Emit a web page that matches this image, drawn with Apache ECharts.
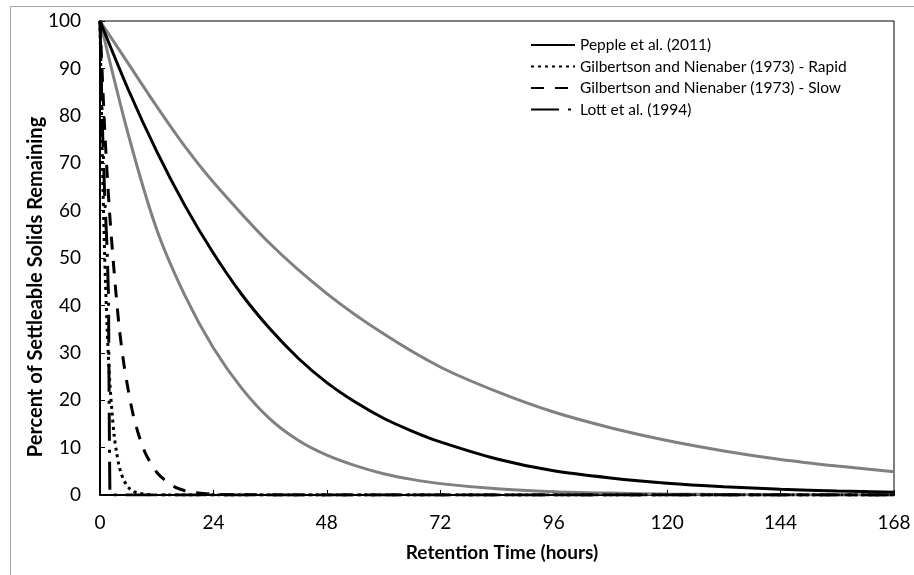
<!DOCTYPE html>
<html>
<head>
<meta charset="utf-8">
<script src="https://cdn.jsdelivr.net/npm/echarts@6/dist/echarts.min.js"></script>
<style>
html,body{margin:0;padding:0;background:#fff;}
#chart{width:914px;height:575px;}
</style>
</head>
<body>
<div id="chart"></div>
<script>
// X ticks (hours)
var xTicks = [0, 24, 48, 72, 96, 120, 144, 168];

// Upper gray envelope
var upperHours = [0, 6, 12, 18, 24, 36, 48, 60, 72, 84, 96, 108, 120, 132, 144, 156, 168];
var upperVals  = [100, 91, 82, 73.5, 66, 53, 42.5, 34, 27, 21.8, 17.5, 14.2, 11.5, 9.3, 7.5, 6.1, 4.9];

// Lower gray envelope
var lowerHours = [0, 6, 12, 18, 24, 30, 36, 42, 48, 54, 60, 66, 72, 84, 96, 108, 120, 144, 168];
var lowerVals  = [100, 76, 56, 42, 31, 22.5, 16, 11.5, 8.4, 6.2, 4.5, 3.3, 2.4, 1.3, 0.7, 0.4, 0.2, 0.06, 0.02];

// Pepple et al. (2011)
var peppleHours = [0, 6, 12, 18, 24, 30, 36, 42, 48, 54, 60, 66, 72, 84, 96, 108, 120, 132, 144, 156, 168];
var peppleVals  = [100, 85.5, 72.5, 61, 51, 42.3, 35, 28.8, 23.7, 19.6, 16.2, 13.5, 11.2, 7.6, 5.1, 3.6, 2.5, 1.75, 1.2, 0.85, 0.6];

// Gilbertson and Nienaber (1973) - Rapid
var rapidHours = [0, 0.5, 1, 1.5, 2, 2.5, 3, 3.5, 4, 4.5, 5, 6, 7, 8, 10, 12, 168];
var rapidVals  = [100, 71, 50, 35.5, 25, 18, 12.5, 9, 6.3, 4.5, 3.2, 1.6, 0.8, 0.4, 0.1, 0, 0];

// Gilbertson and Nienaber (1973) - Slow
var slowHours = [0, 1, 2, 3, 4, 5, 6, 7, 8, 9, 10, 12, 14, 16, 18, 20, 24, 30, 168];
var slowVals  = [100, 77, 60, 47, 36, 28, 22, 17, 13.3, 10.3, 8, 4.8, 2.9, 1.6, 0.9, 0.5, 0.15, 0.03, 0];

// Lott et al. (1994)
var lottHours = [0, 0.5, 1, 1.5, 1.8, 1.9, 2, 2.1, 168];
var lottVals  = [100, 78, 63, 52, 42, 25, 10, 0, 0];

var seriesNames = ['Pepple et al. (2011)', 'Gilbertson and Nienaber (1973) - Rapid', 'Gilbertson and Nienaber (1973) - Slow', 'Lott et al. (1994)'];
var xTitle = 'Retention Time (hours)';
var yTitle = 'Percent of Settleable Solids Remaining';

function pairs(xs, ys){ return xs.map(function(x, i){ return [x, ys[i]]; }); }

var FONT = 'Lato';
var chart = echarts.init(document.getElementById('chart'), null, {renderer: 'canvas'});
chart.setOption({
  animation: false,
  backgroundColor: '#fff',
  textStyle: {fontFamily: FONT},
  graphic: [{
    type: 'rect', silent: true, z: -10,
    shape: {x: 10.5, y: 6.5, width: 1000, height: 1000},
    style: {fill: 'none', stroke: '#a6a6a6', lineWidth: 1}
  }, {
    type: 'text', silent: true,
    x: 36, y: 287, rotation: Math.PI / 2,
    style: {text: yTitle, fontFamily: FONT, fontSize: 20, fontWeight: 'bold', fill: '#000', align: 'center', verticalAlign: 'middle'}
  }, {
    type: 'text', silent: true,
    x: 502, y: 553,
    style: {text: xTitle, fontFamily: FONT, fontSize: 19, fontWeight: 'bold', fill: '#000', align: 'center', verticalAlign: 'middle'}
  }],
  grid: {left: 100, right: 20, top: 21, bottom: 80, show: true, borderColor: '#000', borderWidth: 1, backgroundColor: 'transparent'},
  legend: {
    data: seriesNames,
    orient: 'vertical',
    left: 525, top: 32,
    itemWidth: 44, itemHeight: 12, itemGap: 5.5,
    itemStyle: {opacity: 0},
    textStyle: {fontFamily: FONT, fontSize: 15.5, color: '#000'},
    selectedMode: false
  },
  xAxis: {
    type: 'value', min: 0, max: 168, interval: 24,
    axisLine: {show: true, lineStyle: {color: '#000', width: 2}},
    axisTick: {show: true, inside: true, length: 5, lineStyle: {color: '#000', width: 1}},
    axisLabel: {fontFamily: FONT, fontSize: 19, color: '#000', margin: 18},
    splitLine: {show: false}
  },
  yAxis: {
    type: 'value', min: 0, max: 100, interval: 10,
    axisLine: {show: true, lineStyle: {color: '#000', width: 2}},
    axisTick: {show: true, inside: true, length: 5, lineStyle: {color: '#000', width: 1}},
    axisLabel: {fontFamily: FONT, fontSize: 19, color: '#000', margin: 19},
    splitLine: {show: false}
  },
  series: [
    {name: 'upper', type: 'line', data: pairs(upperHours, upperVals), smooth: 0.3, symbol: 'none',
     lineStyle: {color: '#808080', width: 3}, itemStyle: {color: '#808080'}, z: 2},
    {name: 'lower', type: 'line', data: pairs(lowerHours, lowerVals), smooth: 0.3, symbol: 'none',
     lineStyle: {color: '#808080', width: 3}, itemStyle: {color: '#808080'}, z: 2},
    {name: seriesNames[0], type: 'line', data: pairs(peppleHours, peppleVals), smooth: 0.3, symbol: 'none',
     lineStyle: {color: '#000', width: 3}, itemStyle: {color: '#000'}, z: 3},
    {name: seriesNames[1], type: 'line', data: pairs(rapidHours, rapidVals), smooth: 0.3, symbol: 'none',
     lineStyle: {color: '#000', width: 3, type: [3, 4]}, itemStyle: {color: '#000'}, z: 4},
    {name: seriesNames[2], type: 'line', data: pairs(slowHours, slowVals), smooth: 0.3, symbol: 'none',
     lineStyle: {color: '#000', width: 3, type: [13, 11]}, itemStyle: {color: '#000'}, z: 4},
    {name: seriesNames[3], type: 'line', data: pairs(lottHours, lottVals), smooth: false, symbol: 'none',
     lineStyle: {color: '#000', width: 3, type: [28, 9, 3, 9]}, itemStyle: {color: '#000'}, z: 4}
  ]
});
</script>
</body>
</html>
